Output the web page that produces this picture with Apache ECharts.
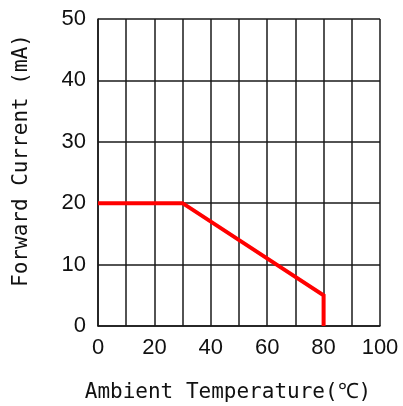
<!DOCTYPE html>
<html>
<head>
<meta charset="utf-8">
<script src="https://cdn.jsdelivr.net/npm/echarts@6/dist/echarts.min.js"></script>
<style>html,body{margin:0;padding:0;background:#fff}#c{width:403px;height:406px}</style>
</head>
<body>
<div id="c"></div>
<script>
const temperature = [0, 30, 80, 80];
const forwardCurrent = [20, 20, 5, 0];
const xTitle = 'Ambient Temperature(℃)';
const yTitle = 'Forward Current (mA)';

const chart = echarts.init(document.getElementById('c'), null, {renderer: 'canvas'});
const lineCol = '#1a1a1a';
chart.setOption({
  animation: false,
  grid: {left: 98, right: 23, top: 19, bottom: 80, containLabel: false, outerBoundsMode: 'none'},
  xAxis: {
    type: 'value', min: 0, max: 100, interval: 10,
    name: xTitle, nameLocation: 'middle', nameGap: 56,
    nameTextStyle: {fontFamily: 'DejaVu Sans Mono', fontSize: 21, color: '#111', padding: [0, 22, 0, 0]},
    axisLine: {show: true, lineStyle: {color: lineCol, width: 1.5}},
    axisTick: {show: false},
    splitLine: {show: true, lineStyle: {color: lineCol, width: 1.5}},
    axisLabel: {
      fontFamily: 'Liberation Sans', fontSize: 22, color: '#111', margin: 11,
      formatter: v => (v % 20 === 0 ? String(v) : '')
    }
  },
  yAxis: {
    type: 'value', min: 0, max: 50, interval: 10,
    name: yTitle, nameLocation: 'middle', nameGap: 66,
    nameTextStyle: {fontFamily: 'DejaVu Sans Mono', fontSize: 21, color: '#111', padding: [0, 0, 0, 24]},
    axisLine: {show: true, lineStyle: {color: lineCol, width: 1.5}},
    axisTick: {show: false},
    splitLine: {show: true, lineStyle: {color: lineCol, width: 1.5}},
    axisLabel: {fontFamily: 'Liberation Sans', fontSize: 22, color: '#111', margin: 12}
  },
  series: [{
    type: 'line',
    data: temperature.map((t, i) => [t, forwardCurrent[i]]),
    symbol: 'none',
    clip: false,
    lineStyle: {color: '#ff0000', width: 4, cap: 'butt', join: 'miter'}
  }]
});
</script>
</body>
</html>
